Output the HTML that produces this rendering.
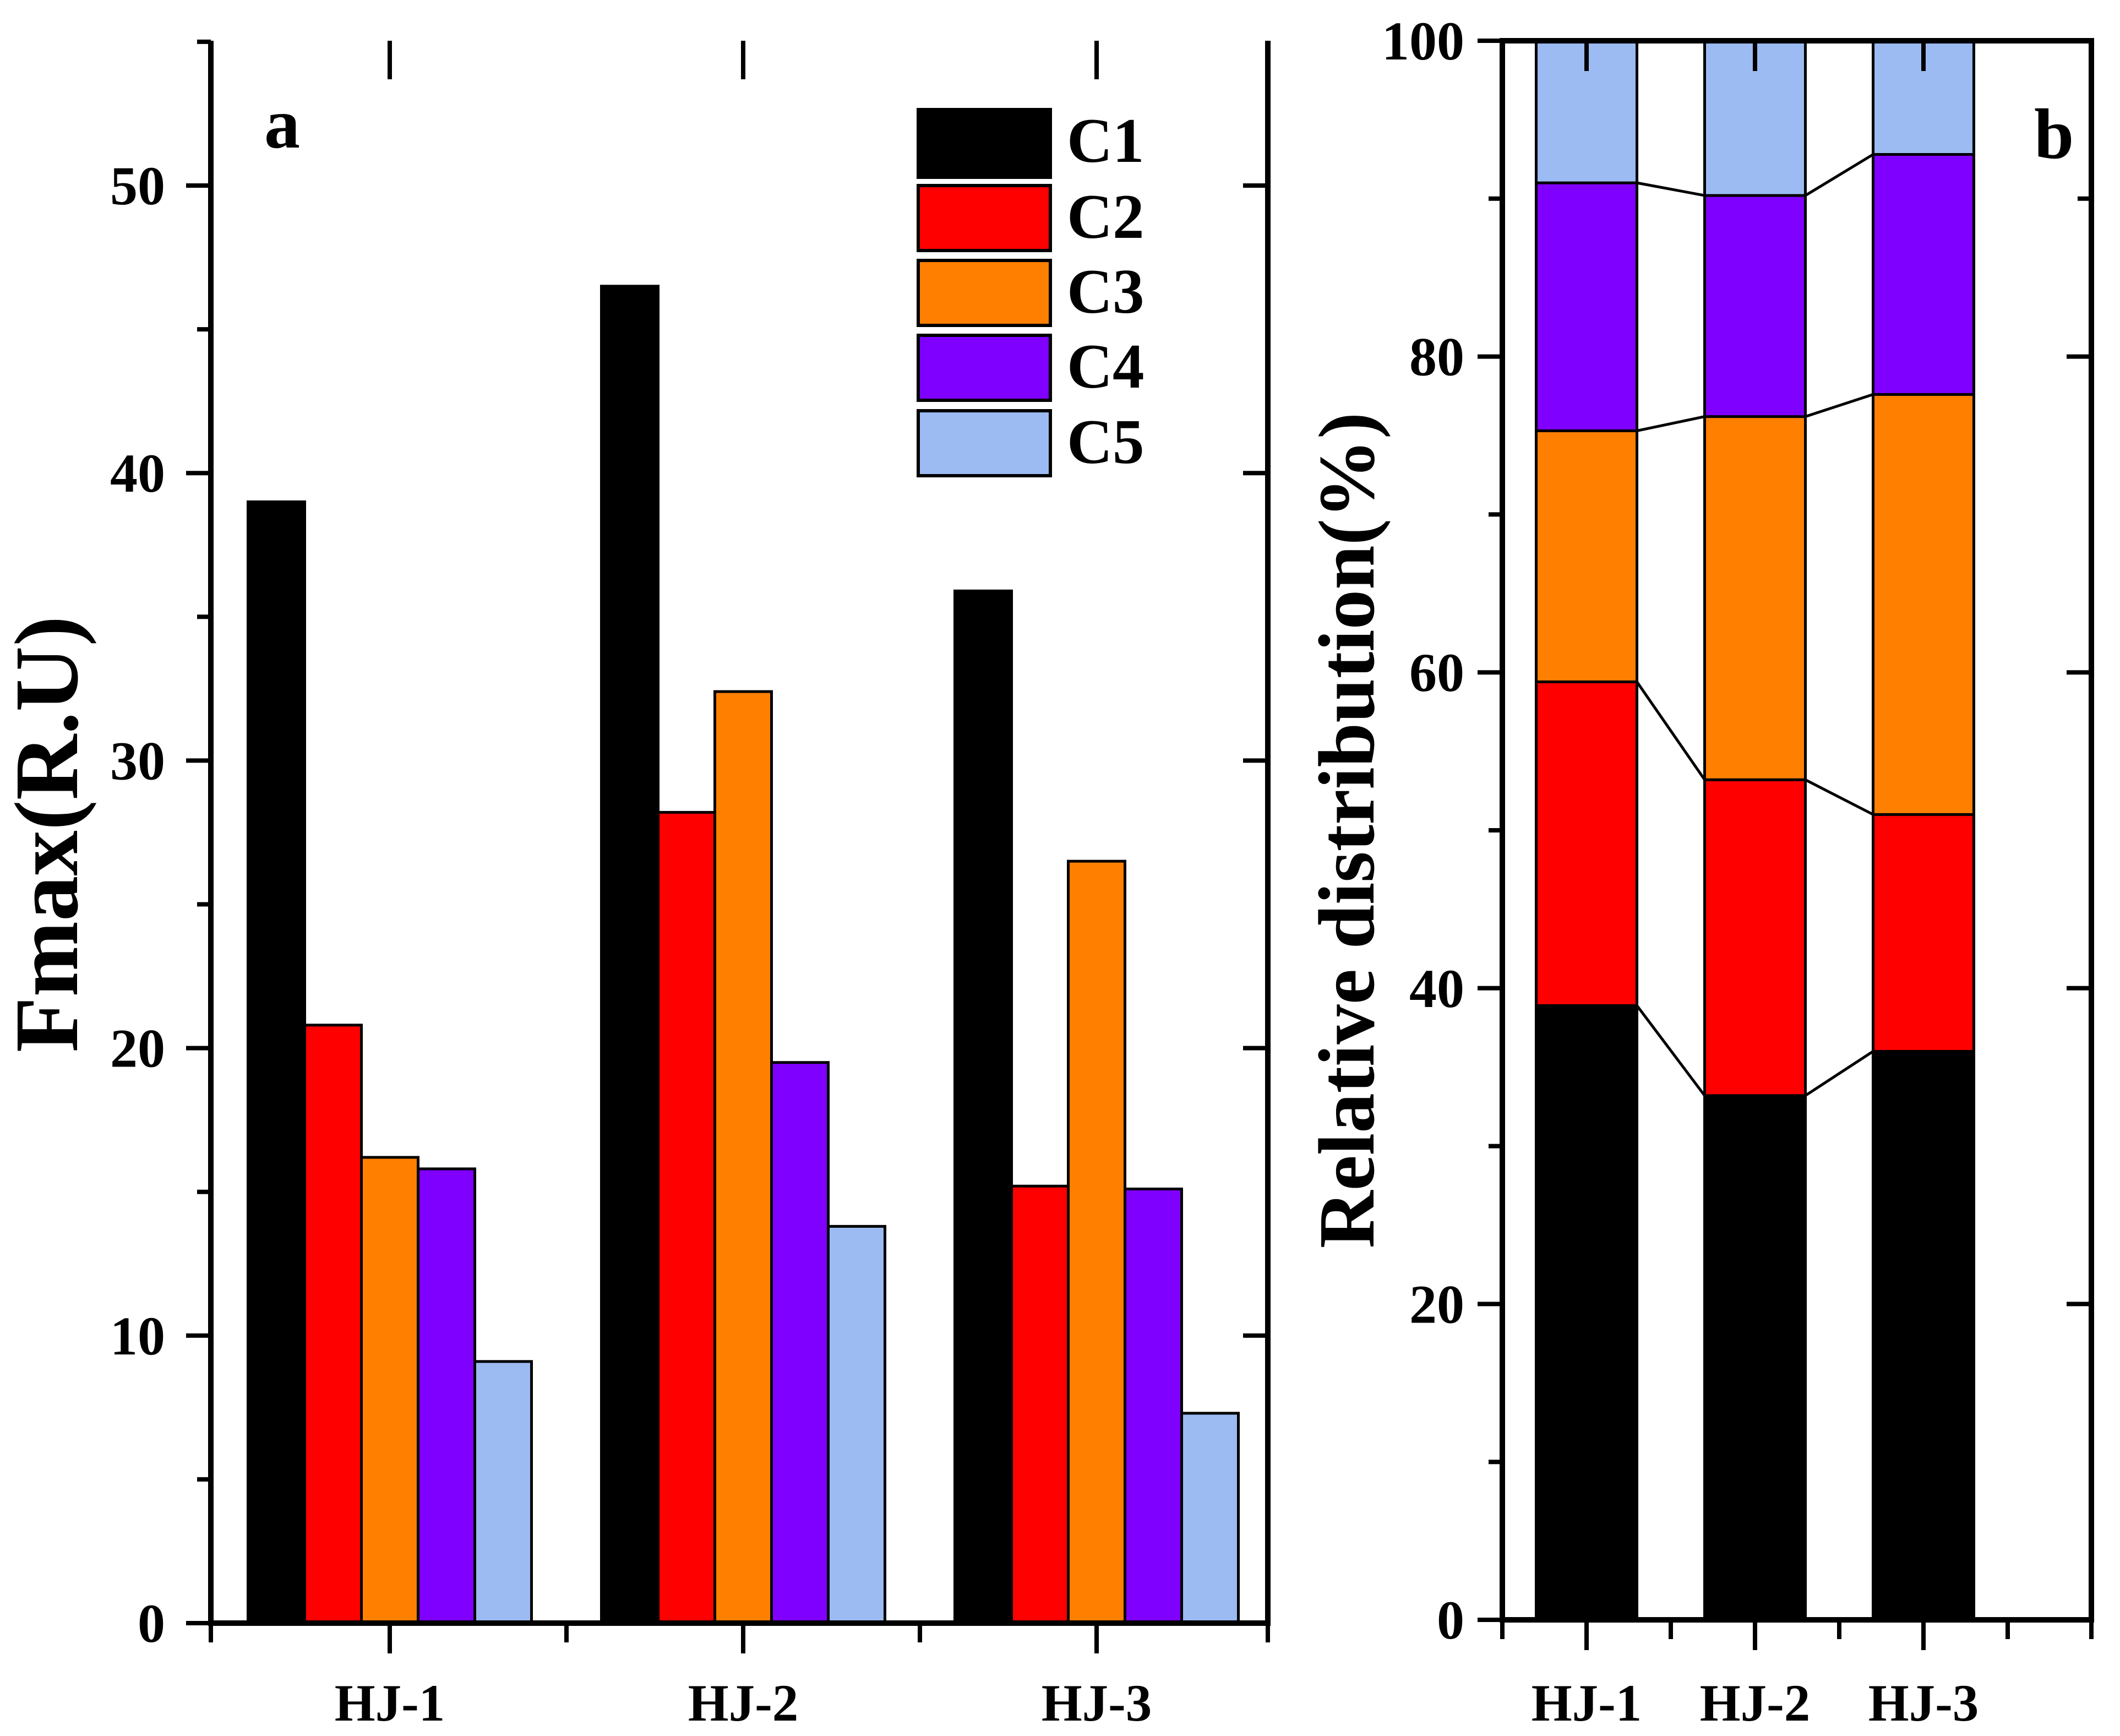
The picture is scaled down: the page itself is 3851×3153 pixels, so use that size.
<!DOCTYPE html>
<html><head><meta charset="utf-8"><style>
html,body{margin:0;padding:0;background:#fff;}
svg{display:block;}
svg text{font-family:"Liberation Serif","Times New Roman",serif;font-weight:bold;}
</style></head><body>
<svg id="chart" xmlns="http://www.w3.org/2000/svg" width="3851" height="3153" viewBox="0 0 3851 3153">
<g id="pa"></g>
<g id="pb"></g>
</svg>
<script>
const categories = ["HJ-1","HJ-2","HJ-3"];
const seriesNames = ["C1","C2","C3","C4","C5"];
const colors = ["#000000","#ff0000","#ff8000","#8000ff","#9bbbf2"];
const fmaxC1 = [39.0, 46.5, 35.9];
const fmaxC2 = [20.8, 28.2, 15.2];
const fmaxC3 = [16.2, 32.4, 26.5];
const fmaxC4 = [15.8, 19.5, 15.1];
const fmaxC5 = [9.1, 13.8, 7.3];
const pctC1 = [38.9, 33.2, 36.0];
const pctC2 = [20.5, 20.0, 15.0];
const pctC3 = [15.9, 23.0, 26.6];
const pctC4 = [15.7, 14.0, 15.2];
const pctC5 = [9.0, 9.8, 7.2];
const aTicks = [0,10,20,30,40,50];
const bTicks = [0,20,40,60,80,100];

const NS="http://www.w3.org/2000/svg";
function mk(parent,tag,attrs,text){const e=document.createElementNS(NS,tag);for(const k in attrs)e.setAttribute(k,attrs[k]);if(text!==undefined)e.textContent=text;parent.appendChild(e);return e;}
const pa=document.getElementById('pa'), pb=document.getElementById('pb');

// ---------- Panel a ----------
const aL=383,aR=2303,aT=74,aB=2948;
const ay=v=>aB-(aB-337)*v/50;
const groupCx=[708,1350,1992];
const bw=103;
const fmax=[fmaxC1,fmaxC2,fmaxC3,fmaxC4,fmaxC5];
fmax.forEach((ser,s)=>{ser.forEach((v,g)=>{
  const x=groupCx[g]+(s-2)*bw-bw/2;
  const r=mk(pa,'rect',{x:x,y:ay(v),width:bw,height:aB-ay(v),fill:colors[s],stroke:'#000','stroke-width':5});
  
  
});});
const fa=mk(pa,'path',{d:`M${aL} ${aT}V${aB}H${aR}V${aT}`,fill:'none',stroke:'#000','stroke-width':10});

for(let v=0;v<=55;v+=5){const y=ay(v);const major=v%10===0;
  const len=major?45:25;
  mk(pa,'line',{x1:aL-len,y1:y,x2:aL,y2:y,stroke:'#000','stroke-width':8});
  if(major&&v>0) mk(pa,'line',{x1:aR-len,y1:y,x2:aR,y2:y,stroke:'#000','stroke-width':8});
}
aTicks.forEach(v=>{const t=mk(pa,'text',{x:300,y:ay(v)+34,'text-anchor':'end','font-size':100},String(v));
  });
groupCx.forEach((cx,i)=>{
  mk(pa,'line',{x1:cx,y1:aB,x2:cx,y2:aB+55,stroke:'#000','stroke-width':8});
  mk(pa,'line',{x1:cx,y1:aT,x2:cx,y2:aT+70,stroke:'#000','stroke-width':8});
  const t=mk(pa,'text',{x:cx,y:3125,'text-anchor':'middle','font-size':95},categories[i]);
  
});
[383,1029,1671,2303].forEach(x=>{mk(pa,'line',{x1:x,y1:aB,x2:x,y2:aB+35,stroke:'#000','stroke-width':8});});
const yta=mk(pa,'text',{x:0,y:0,transform:'translate(140,1515) rotate(-90)','text-anchor':'middle','font-size':165},'Fmax(R.U)');

const la=mk(pa,'text',{x:480,y:268,'font-size':130},'a');

const legY=[199,337,473,609,746];
seriesNames.forEach((n,i)=>{
  const g=mk(pa,'g',{});
  
  const h=i===0?123:118;
  mk(g,'rect',{x:1668,y:legY[i],width:240,height:h,fill:colors[i],stroke:'#000','stroke-width':6});
  mk(g,'text',{x:1938,y:legY[i]+95,'font-size':115},n);
});

// ---------- Panel b ----------
const bL=2729,bR=3799,bT=74,bB=2942;
const by=v=>bB-(bB-bT)*v/100;
const bx=c=>bL+(c-0.5)*306;
const sbw=183;
const pct=[pctC1,pctC2,pctC3,pctC4,pctC5];
const cum=[0,0,0];
const tops=[];
pct.forEach((ser,s)=>{const row=[];ser.forEach((v,g)=>{
  const lo=cum[g], hi=(s===4)?100:cum[g]+v; cum[g]=hi; row.push(hi);
  const cx=bx(g+1);
  const r=mk(pb,'rect',{x:cx-sbw/2,y:by(hi),width:sbw,height:by(lo)-by(hi),fill:colors[s],stroke:'#000','stroke-width':5});
  
  
});tops.push(row);});
for(let s=0;s<4;s++){for(let g=0;g<2;g++){
  const l=mk(pb,'line',{x1:bx(g+1)+sbw/2,y1:by(tops[s][g]),x2:bx(g+2)-sbw/2,y2:by(tops[s][g+1]),stroke:'#000','stroke-width':5});
  
}}
const fb=mk(pb,'path',{d:`M${bL} ${bT}V${bB}H${bR}V${bT}Z`,fill:'none',stroke:'#000','stroke-width':10});

for(let v=0;v<=100;v+=10){const y=by(v);const major=v%20===0;const len=major?45:25;
  mk(pb,'line',{x1:bL-len,y1:y,x2:bL,y2:y,stroke:'#000','stroke-width':8});
  if((major||v===90)&&v>0&&v<100) mk(pb,'line',{x1:bR-len,y1:y,x2:bR,y2:y,stroke:'#000','stroke-width':8});
}
bTicks.forEach(v=>{const t=mk(pb,'text',{x:2660,y:by(v)+34,'text-anchor':'end','font-size':100},String(v));
  });
categories.forEach((c,i)=>{const x=bx(i+1);
  mk(pb,'line',{x1:x,y1:bB,x2:x,y2:bB+55,stroke:'#000','stroke-width':8});
  mk(pb,'line',{x1:x,y1:bT,x2:x,y2:bT+55,stroke:'#000','stroke-width':8});
  const t=mk(pb,'text',{x:x,y:3125,'text-anchor':'middle','font-size':95},c);
  
});
[1.5,2.5,3.5].forEach(c=>{mk(pb,'line',{x1:bx(c),y1:bB,x2:bx(c),y2:bB+35,stroke:'#000','stroke-width':8});});
mk(pb,'line',{x1:bL,y1:bB,x2:bL,y2:bB+35,stroke:'#000','stroke-width':8});
mk(pb,'line',{x1:bR,y1:bB,x2:bR,y2:bB+35,stroke:'#000','stroke-width':8});
const ytb=mk(pb,'text',{x:0,y:0,transform:'translate(2495,1508) rotate(-90)','text-anchor':'middle','font-size':145},'Relative distribution(%)');

const lb=mk(pb,'text',{x:3695,y:287,'font-size':130},'b');

</script>
</body></html>
